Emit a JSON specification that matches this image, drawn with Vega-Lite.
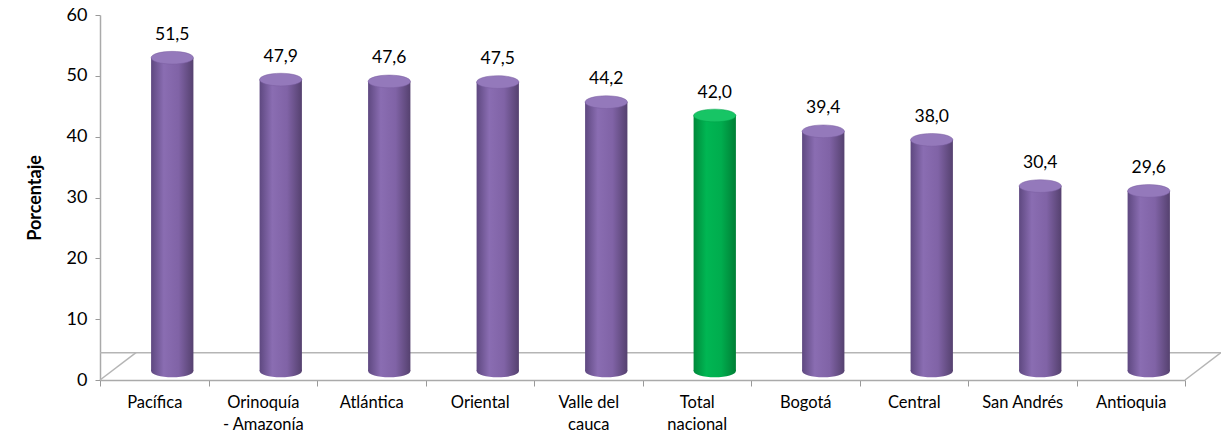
{
  "$schema": "https://vega.github.io/schema/vega-lite/v6.json",
  "width": 1085,
  "height": 365,
  "autosize": {"type": "none"},
  "padding": {"left": 100, "top": 15, "right": 36, "bottom": 64},
  "background": "white",
  "config": {"view": {"stroke": null}, "font": "Lato"},
  "data": {
    "values": [
      {"region": "Pacífica", "valor": 51.5, "etiqueta": "51,5", "tipo": "region", "base": 0},
      {"region": "Orinoquía|- Amazonía", "valor": 47.9, "etiqueta": "47,9", "tipo": "region", "base": 0},
      {"region": "Atlántica", "valor": 47.6, "etiqueta": "47,6", "tipo": "region", "base": 0},
      {"region": "Oriental", "valor": 47.5, "etiqueta": "47,5", "tipo": "region", "base": 0},
      {"region": "Valle del|cauca", "valor": 44.2, "etiqueta": "44,2", "tipo": "region", "base": 0},
      {"region": "Total|nacional", "valor": 42.0, "etiqueta": "42,0", "tipo": "total", "base": 0},
      {"region": "Bogotá", "valor": 39.4, "etiqueta": "39,4", "tipo": "region", "base": 0},
      {"region": "Central", "valor": 38.0, "etiqueta": "38,0", "tipo": "region", "base": 0},
      {"region": "San Andrés", "valor": 30.4, "etiqueta": "30,4", "tipo": "region", "base": 0},
      {"region": "Antioquia", "valor": 29.6, "etiqueta": "29,6", "tipo": "region", "base": 0}
    ]
  },
  "encoding": {
    "x": {
      "field": "region",
      "type": "nominal",
      "sort": ["Pacífica", "Orinoquía|- Amazonía", "Atlántica", "Oriental", "Valle del|cauca", "Total|nacional", "Bogotá", "Central", "San Andrés", "Antioquia"],
      "scale": {"paddingInner": 0, "paddingOuter": 0},
      "axis": {
        "title": null,
        "labelAngle": 0,
        "labelFontSize": 16.5,
        "labelColor": "#000000",
        "labelPadding": 8,
        "labelLineHeight": 22,
        "labelBaseline": "top",
        "labelExpr": "isValid(datum.value) ? split(datum.value, '|') : ''",
        "tickBand": "extent",
        "tickSize": 6,
        "tickColor": "#999999",
        "domainColor": "#aaaaaa",
        "domainWidth": 1.5
      }
    },
    "y": {
      "field": "valor",
      "type": "quantitative",
      "scale": {"domain": [0, 60]},
      "axis": {
        "title": "Porcentaje",
        "titleFontSize": 18,
        "titleFontWeight": "bold",
        "titleColor": "#000000",
        "titlePadding": 22,
        "values": [0, 10, 20, 30, 40, 50, 60],
        "grid": false,
        "labelFontSize": 18,
        "labelColor": "#000000",
        "labelPadding": 8,
        "tickSize": 5,
        "tickColor": "#999999",
        "domainColor": "#aaaaaa",
        "domainWidth": 1.5
      }
    }
  },
  "layer": [
    {
      "data": {"values": [{"piso": 4.5}]},
      "mark": {"type": "rule", "color": "#b5b5b5", "strokeWidth": 1.5, "xOffset": 36, "x2Offset": 36},
      "encoding": {"x": null, "y": {"field": "piso", "type": "quantitative"}}
    },
    {
      "data": {"values": [{"a": 0, "b": 4.5}]},
      "mark": {"type": "rule", "color": "#b5b5b5", "strokeWidth": 1.5, "x2Offset": 36},
      "encoding": {
        "x": {"datum": "Pacífica", "bandPosition": 0},
        "x2": {"datum": "Pacífica", "bandPosition": 0},
        "y": {"field": "a", "type": "quantitative"},
        "y2": {"field": "b"}
      }
    },
    {
      "data": {"values": [{"a": 0, "b": 4.5}]},
      "mark": {"type": "rule", "color": "#b5b5b5", "strokeWidth": 1.5, "x2Offset": 36},
      "encoding": {
        "x": {"datum": "Antioquia", "bandPosition": 1},
        "x2": {"datum": "Antioquia", "bandPosition": 1},
        "y": {"field": "a", "type": "quantitative"},
        "y2": {"field": "b"}
      }
    },
    {
      "transform": [{"filter": "datum.tipo == 'region'"}],
      "mark": {
        "type": "point",
        "shape": "M-1,0A1,0.3,0,1,1,1,0A1,0.3,0,1,1,-1,0Z",
        "size": 1790,
        "filled": true,
        "opacity": 1,
        "xOffset": 18,
        "yOffset": -9,
        "fill": {
          "gradient": "linear", "x1": 0, "x2": 1, "y1": 0, "y2": 0,
          "stops": [
            {"offset": 0, "color": "#5e4880"},
            {"offset": 0.3, "color": "#8a6db2"},
            {"offset": 0.65, "color": "#8063a6"},
            {"offset": 1, "color": "#55416f"}
          ]
        }
      },
      "encoding": {"y": {"field": "base", "type": "quantitative"}}
    },
    {
      "transform": [{"filter": "datum.tipo == 'total'"}],
      "mark": {
        "type": "point",
        "shape": "M-1,0A1,0.3,0,1,1,1,0A1,0.3,0,1,1,-1,0Z",
        "size": 1790,
        "filled": true,
        "opacity": 1,
        "xOffset": 18,
        "yOffset": -9,
        "fill": {
          "gradient": "linear", "x1": 0, "x2": 1, "y1": 0, "y2": 0,
          "stops": [
            {"offset": 0, "color": "#00893a"},
            {"offset": 0.3, "color": "#00b653"},
            {"offset": 0.65, "color": "#00ad4e"},
            {"offset": 1, "color": "#007f35"}
          ]
        }
      },
      "encoding": {"y": {"field": "base", "type": "quantitative"}}
    },
    {
      "transform": [{"filter": "datum.tipo == 'region'"}],
      "mark": {
        "type": "bar",
        "width": {"band": 0.39},
        "xOffset": 18,
        "yOffset": -9,
        "y2Offset": -9,
        "fill": {
          "gradient": "linear", "x1": 0, "x2": 1, "y1": 0, "y2": 0,
          "stops": [
            {"offset": 0, "color": "#5e4880"},
            {"offset": 0.3, "color": "#8a6db2"},
            {"offset": 0.65, "color": "#8063a6"},
            {"offset": 1, "color": "#55416f"}
          ]
        }
      }
    },
    {
      "transform": [{"filter": "datum.tipo == 'total'"}],
      "mark": {
        "type": "bar",
        "width": {"band": 0.39},
        "xOffset": 18,
        "yOffset": -9,
        "y2Offset": -9,
        "fill": {
          "gradient": "linear", "x1": 0, "x2": 1, "y1": 0, "y2": 0,
          "stops": [
            {"offset": 0, "color": "#00893a"},
            {"offset": 0.3, "color": "#00b653"},
            {"offset": 0.65, "color": "#00ad4e"},
            {"offset": 1, "color": "#007f35"}
          ]
        }
      }
    },
    {
      "transform": [{"filter": "datum.tipo == 'region'"}],
      "mark": {
        "type": "point",
        "shape": "M-1,0A1,0.3,0,1,1,1,0A1,0.3,0,1,1,-1,0Z",
        "size": 1790,
        "filled": true,
        "opacity": 1,
        "fill": "#9479bb",
        "stroke": "#7a5ea0",
        "strokeWidth": 0.5,
        "xOffset": 18,
        "yOffset": -9
      }
    },
    {
      "transform": [{"filter": "datum.tipo == 'total'"}],
      "mark": {
        "type": "point",
        "shape": "M-1,0A1,0.3,0,1,1,1,0A1,0.3,0,1,1,-1,0Z",
        "size": 1790,
        "filled": true,
        "opacity": 1,
        "fill": "#17c565",
        "stroke": "#00a048",
        "strokeWidth": 0.5,
        "xOffset": 18,
        "yOffset": -9
      }
    },
    {
      "mark": {
        "type": "text",
        "fontSize": 17.5,
        "color": "#000000",
        "baseline": "bottom",
        "xOffset": 18,
        "yOffset": -23
      },
      "encoding": {"text": {"field": "etiqueta", "type": "nominal"}}
    }
  ]
}
